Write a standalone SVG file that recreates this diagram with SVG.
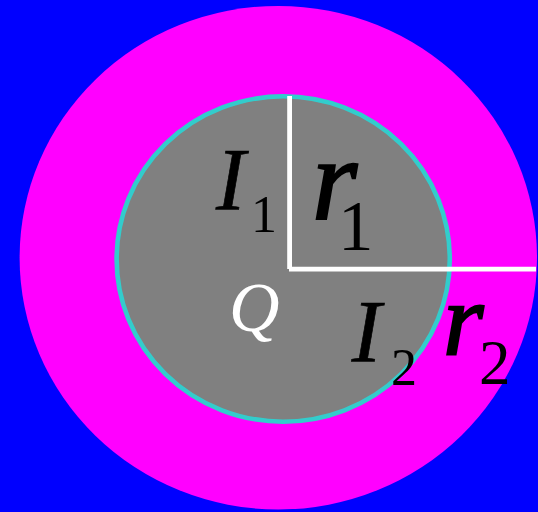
<svg xmlns="http://www.w3.org/2000/svg" width="538" height="512" viewBox="0 0 538 512">
  <style>
    .lbl { font-family: "Liberation Serif", "Times New Roman", serif; fill: #000; }
    .it { font-style: italic; stroke: #000; stroke-width: 0.7; }
    .ri { font-style: italic; stroke: #000; stroke-width: 2; }
    .ln { stroke: #ffffff; stroke-width: 4.8; fill: none; }
  </style>
  <rect x="0" y="0" width="538" height="512" fill="#0000ff"/>
  <g id="outer">
    <ellipse cx="278.3" cy="257.7" rx="258.7" ry="251.8" fill="#ff00ff"/>
  </g>
  <g id="inner">
    <ellipse cx="283.2" cy="259" rx="166.6" ry="162.7" fill="#808080" stroke="#33cccc" stroke-width="4.6"/>
  </g>
  <g id="radii">
    <line class="ln" x1="289.6" y1="96" x2="289.6" y2="269"/>
    <line class="ln" x1="289" y1="269.2" x2="536" y2="269.2"/>
  </g>
  <g id="labels">
    <text class="lbl it" x="216" y="208.5" font-size="88">I</text>
    <text class="lbl" x="251" y="231.7" font-size="52">1</text>
    <text class="lbl ri" x="312" y="218.5" font-size="116">r</text>
    <text class="lbl" x="338" y="250" font-size="71">1</text>
    <text x="229" y="331" font-size="70" font-family="Liberation Serif, serif" font-style="italic" fill="#ffffff">Q</text>
    <text class="lbl it" x="351.7" y="360.5" font-size="88">I</text>
    <text class="lbl" x="391" y="385" font-size="52">2</text>
    <text class="lbl ri" x="443" y="354.5" font-size="104">r</text>
    <text class="lbl" x="479" y="384" font-size="63">2</text>
  </g>
</svg>
